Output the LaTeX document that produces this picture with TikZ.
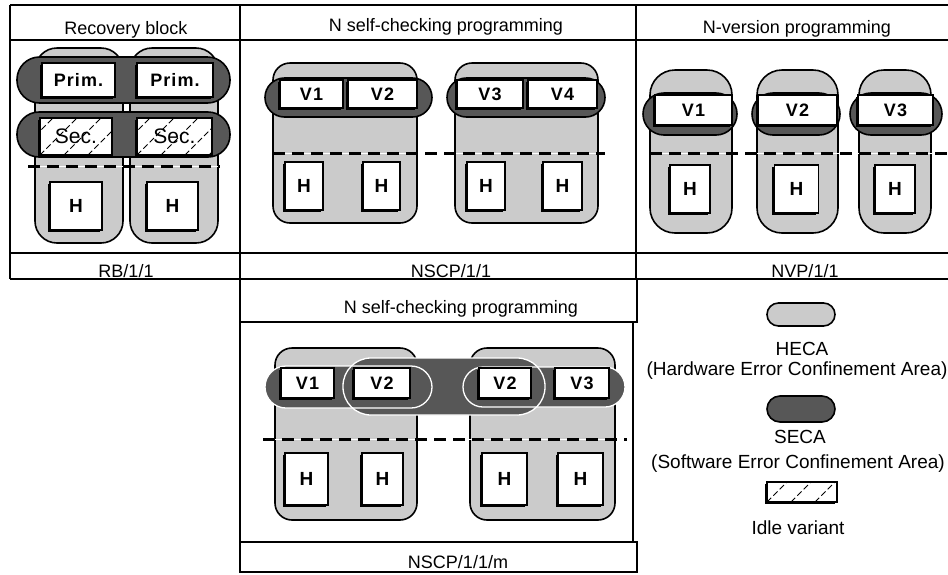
\documentclass[tikz,border=0pt]{standalone}
\usepackage{fontspec}
\setmainfont{Liberation Sans}
\newfontfamily\boxfont[LetterSpace=6]{Liberation Sans}
\usetikzlibrary{positioning, calc, shadows}
\definecolor{hecaGray}{HTML}{CBCBCB}
\definecolor{secaGray}{HTML}{575757}

\begin{document}
\begin{tikzpicture}[x=1pt, y=-1pt,
  heca/.style={draw, fill=hecaGray, line width=1.6},
  seca/.style={draw, fill=secaGray, line width=1.6},
  unitbox/.style={draw, fill=white, line width=1.6, inner sep=0pt,
                  drop shadow={shadow xshift=-2.4pt, shadow yshift=-2.4pt,
                               opacity=1, fill=black}},
  verbox/.style={unitbox, font=\boxfont\bfseries\fontsize{18}{18}\selectfont},
  hwbox/.style={unitbox, font=\bfseries\fontsize{19}{19}\selectfont},
  hatch/.style={path picture={
      \foreach \k in {-3,...,5}
        \draw[line width=1, dash pattern=on 6pt off 3pt]
          ($(path picture bounding box.south west)+(\k*24,0)$) -- ++(50,-50);
    }},
  secbox/.style={unitbox, hatch, font=\fontsize{21}{21}\selectfont},
  cut/.style={line width=3, dash pattern=on 12pt off 7pt,
              preaction={draw=white, solid}},
  frame/.style={line width=1.8},
  title/.style={anchor=base, font=\fontsize{18}{18}\selectfont},
  legtext/.style={anchor=base, font=\fontsize{19}{19}\selectfont},
]
\useasboundingbox (0,0) rectangle (948,574);

% table frames
\draw[frame] (10,5) -- (948,5) (10,40) -- (948,40)
             (10,253) -- (948,253) (10,279) -- (948,279);
\draw[frame] (10,5) -- (10,279) (240,5) -- (240,279) (636,5) -- (636,279);
\draw[frame] (240,279) rectangle (637,322) (240,322) rectangle (633,542)
             (240,542) rectangle (637,572);

\node[title] (rbTitle) at (126,34) {Recovery block};
\node[title] (nscpTitle) at (446,31) {N self-checking programming};
\node[title] (nvpTitle) at (797,33) {N-version programming};
\node[title] (rbName) at (126,277) {RB/1/1};
\node[title] (nscpName) at (451,277) {NSCP/1/1};
\node[title] (nvpName) at (805,277) {NVP/1/1};
\node[title] (mTitle) at (461,313) {N self-checking programming};
\node[title] (mName) at (458,568) {NSCP/1/1/m};

% recovery block
\node[heca, minimum width=88, minimum height=195, rounded corners=22] (rbHw1) at (79,145.5) {};
\node[heca, minimum width=88, minimum height=195, rounded corners=22] (rbHw2) at (174,145.5) {};
\node[seca, minimum width=213, minimum height=46, rounded corners=22.5] (rbPrim) at (123.5,80) {};
\node[seca, minimum width=213, minimum height=45, rounded corners=22] (rbSec) at (123.5,134.5) {};
\node[verbox, minimum width=73, minimum height=34] (rbP1) at (78.5,80) {Prim.};
\node[verbox, minimum width=76, minimum height=34] (rbP2) at (175,80) {Prim.};
\node[secbox, minimum width=72, minimum height=37] (rbS1) at (76,136.5) {Sec.};
\node[secbox, minimum width=75, minimum height=37] (rbS2) at (174.5,136.5) {Sec.};
\coordinate (rbCutL) at (28,166);
\coordinate (rbCutR) at (220,166);
\draw[cut] (rbCutL) -- (rbCutR);
\node[hwbox, minimum width=52, minimum height=48] (rbH1) at (76,206) {H};
\node[hwbox, minimum width=51, minimum height=48] (rbH2) at (172.5,206) {H};

% N self-checking programming
\node[heca, minimum width=144, minimum height=160, rounded corners=17] (nsHw1) at (345,143) {};
\node[heca, minimum width=143, minimum height=160, rounded corners=17] (nsHw2) at (526.5,143) {};
\node[seca, minimum width=167, minimum height=39, rounded corners=19.5] (nsSw1) at (348.5,97.5) {};
\node[seca, minimum width=158, minimum height=39, rounded corners=19.5] (nsSw2) at (526,97.5) {};
\node[verbox, minimum width=63, minimum height=28] (nsV1) at (311.5,94) {V1};
\node[verbox, minimum width=69, minimum height=28] (nsV2) at (382.5,94) {V2};
\node[verbox, minimum width=66, minimum height=28] (nsV3) at (490,94) {V3};
\node[verbox, minimum width=69, minimum height=28] (nsV4) at (562.5,94) {V4};
\coordinate (nsCutL) at (273,153);
\coordinate (nsCutR) at (605,153);
\draw[cut] (nsCutL) -- (nsCutR);
\node[hwbox, minimum width=38, minimum height=48] (nsH1) at (304,186) {H};
\node[hwbox, minimum width=37, minimum height=48] (nsH2) at (381.5,186) {H};
\node[hwbox, minimum width=38, minimum height=48] (nsH3) at (486,186) {H};
\node[hwbox, minimum width=39, minimum height=48] (nsH4) at (562.5,186) {H};

% N-version programming
\node[heca, minimum width=82, minimum height=163, rounded corners=25] (nvHw1) at (691,151.5) {};
\node[heca, minimum width=81, minimum height=163, rounded corners=25] (nvHw2) at (797.5,151.5) {};
\node[heca, minimum width=72, minimum height=163, rounded corners=25] (nvHw3) at (895,151.5) {};
\node[seca, minimum width=94, minimum height=42, rounded corners=21] (nvSw1) at (690,114) {};
\node[seca, minimum width=88, minimum height=42, rounded corners=21] (nvSw2) at (796,114) {};
\node[seca, minimum width=92, minimum height=42, rounded corners=21] (nvSw3) at (896,114) {};
\node[verbox, minimum width=77, minimum height=30] (nvV1) at (693.5,110) {V1};
\node[verbox, minimum width=79, minimum height=30] (nvV2) at (797.5,110) {V2};
\node[verbox, minimum width=75, minimum height=30] (nvV3) at (895.5,110) {V3};
\coordinate (nvCutL) at (650,153);
\coordinate (nvCutR) at (947,153);
\draw[cut] (nvCutL) -- (nvCutR);
\node[hwbox, minimum width=40, minimum height=48] (nvH1) at (690,189) {H};
\node[hwbox, minimum width=44, minimum height=48] (nvH2) at (796.5,189) {H};
\node[hwbox, minimum width=40, minimum height=48] (nvH3) at (895,189) {H};

% N self-checking programming, shared variant
\node[heca, minimum width=142, minimum height=172, rounded corners=17] (mHw1) at (346,434) {};
\node[heca, minimum width=145, minimum height=172, rounded corners=17] (mHw2) at (542.5,434) {};
\foreach \xa/\ya/\xb/\yb/\r in {265/366/432/408/21, 343/358/545/415/28, 463/367/625/407/20}
  \fill[secaGray, rounded corners=\r] (\xa,\ya) rectangle (\xb,\yb);
\foreach \xa/\ya/\xb/\yb/\r in {265/366/432/408/21, 343/358/545/415/28, 463/367/625/407/20}
  \draw[white, line width=1.3, rounded corners=\r] (\xa,\ya) rectangle (\xb,\yb);
\node[verbox, minimum width=53, minimum height=30] (mV1) at (307.5,383) {V1};
\node[verbox, minimum width=56, minimum height=30] (mV2a) at (382,383) {V2};
\node[verbox, minimum width=52, minimum height=30] (mV2b) at (505,383) {V2};
\node[verbox, minimum width=54, minimum height=30] (mV3) at (582,383) {V3};
\coordinate (mCutL) at (263,439);
\coordinate (mCutR) at (627,439);
\draw[cut] (mCutL) -- (mCutR);
\node[hwbox, minimum width=43, minimum height=52] (mH1) at (306.5,479) {H};
\node[hwbox, minimum width=41, minimum height=52] (mH2) at (382.5,479) {H};
\node[hwbox, minimum width=45, minimum height=52] (mH3) at (504.5,479) {H};
\node[hwbox, minimum width=45, minimum height=52] (mH4) at (580.5,479) {H};

% legend
\node[heca, minimum width=68, minimum height=23, rounded corners=11.5] (legHeca) at (801,314.5) {};
\node[legtext] (legHecaName) at (802,355) {HECA};
\node[legtext] (legHecaLong) at (797,375) {(Hardware Error Confinement Area)};
\node[seca, minimum width=68, minimum height=26, rounded corners=13] (legSeca) at (801,409) {};
\node[legtext] (legSecaName) at (800,443) {SECA};
\node[legtext] (legSecaLong) at (798,468) {(Software Error Confinement Area)};
\node[unitbox, hatch, line width=2.2, minimum width=70, minimum height=20] (legIdle) at (802,492) {};
\node[legtext] (legIdleName) at (798,534) {Idle variant};
\end{tikzpicture}
\end{document}
